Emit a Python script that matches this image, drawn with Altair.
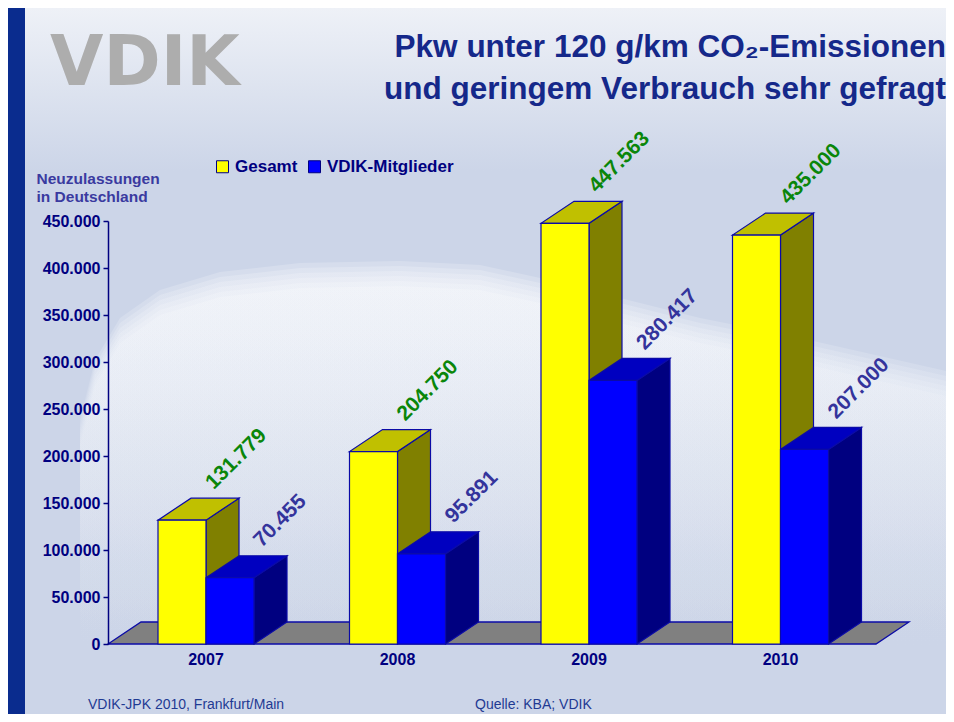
import altair as alt
import pandas as pd

# ---------------- data ----------------
years = ["2007", "2008", "2009", "2010"]
gesamt = [131779, 204750, 447563, 435000]
mitglieder = [70455, 95891, 280417, 207000]
series_names = ["Gesamt", "VDIK-Mitglieder"]
y_ticks = [0, 50000, 100000, 150000, 200000, 250000, 300000, 350000, 400000, 450000]
title_lines = ["Pkw unter 120 g/km CO\u2082-Emissionen", "und geringem Verbrauch sehr gefragt"]
y_title = ["Neuzulassungen", "in Deutschland"]
footer_left = "VDIK-JPK 2010, Frankfurt/Main"
footer_right = "Quelle: KBA; VDIK"
logo_text = "VDIK"

# ---------------- layout / style ----------------
W, H = 810, 423
Y_MAX = 450000
GROUP0, GROUP_STEP, BAR_W = 98, 191.5, 48
DEPTH_X = 33
DEPTH_Y = 22 * Y_MAX / H
FLOOR_W = 768

FACE = {
    "Gesamt": ("#ffff00", "#c0c000", "#808000"),
    "VDIK-Mitglieder": ("#0000ff", "#0000c0", "#000080"),
}
LABEL_COLOR = {"Gesamt": "#0a860a", "VDIK-Mitglieder": "#34349c"}
EDGE = "#0b0ba6"
NAVY = "#000080"
TITLE_COLOR = "#15288a"
BG = "#ccd5e8"
FONT = "Liberation Sans"

# ---------------- geometry tables built from the data ----------------
front, side, top, labels, ylabels = [], [], [], [], []
for i, yr in enumerate(years):
    c = GROUP0 + GROUP_STEP * i
    ylabels.append(dict(x=c, base=0, text=yr))
    for s, vals, x0 in (("Gesamt", gesamt, c - BAR_W), ("VDIK-Mitglieder", mitglieder, c)):
        v = vals[i]
        x1 = x0 + BAR_W
        bid = f"{yr}-{s}"
        front.append(dict(series=s, bid=bid, x0=x0, x1=x1, base=0, v=v))
        side += [
            dict(series=s, bid=bid, x=x1, lo=0, hi=v),
            dict(series=s, bid=bid, x=x1 + DEPTH_X, lo=DEPTH_Y, hi=v + DEPTH_Y),
        ]
        top += [
            dict(series=s, bid=bid, x=x0, lo=v, hi=v),
            dict(series=s, bid=bid, x=x0 + DEPTH_X, lo=v, hi=v + DEPTH_Y),
            dict(series=s, bid=bid, x=x1, lo=v, hi=v + DEPTH_Y),
            dict(series=s, bid=bid, x=x1 + DEPTH_X, lo=v + DEPTH_Y, hi=v + DEPTH_Y),
        ]
        labels.append(dict(series=s, x=x1, y=v + DEPTH_Y,
                           text=f"{v:,}".replace(",", ".")))

floor = pd.DataFrame([
    dict(bid="floor", x=0, lo=0, hi=0),
    dict(bid="floor", x=DEPTH_X, lo=0, hi=DEPTH_Y),
    dict(bid="floor", x=FLOOR_W, lo=0, hi=DEPTH_Y),
    dict(bid="floor", x=FLOOR_W + DEPTH_X, lo=DEPTH_Y, hi=DEPTH_Y),
])
front = pd.DataFrame(front)
side = pd.DataFrame(side)
top = pd.DataFrame(top)
labels = pd.DataFrame(labels)
ylabels = pd.DataFrame(ylabels)
one = pd.DataFrame({"k": [0]})

xscale = alt.Scale(domain=[0, W], nice=False, zero=False)
yscale = alt.Scale(domain=[0, Y_MAX], nice=False, zero=True)

yaxis = alt.Axis(
    values=y_ticks,
    labelExpr="replace(format(datum.value, ','), ',', '.')",
    title=y_title, titleAngle=0, titleAlign="left", titleBaseline="alphabetic",
    titleX=-72, titleY=-38, titleFont=FONT, titleFontSize=15.5, titleFontWeight="bold",
    titleColor="#3a3aa0", titleLineHeight=18,
    labelFont=FONT, labelFontSize=16, labelFontWeight="bold", labelColor=NAVY,
    labelPadding=3, domainColor=NAVY, domainWidth=1.5, tickColor=NAVY,
    tickSize=5, tickWidth=1.5, grid=False, zindex=1,
)

def X(field):
    return alt.X(field, type="quantitative", scale=xscale, axis=None)

def Y(field):
    return alt.Y(field, type="quantitative", scale=yscale, axis=yaxis)

layers = []

# ---------------- background decoration ----------------
top_band = alt.Chart(one).mark_rect(
    fill=alt.LinearGradient(gradient="linear", x1=0, y1=0, x2=0, y2=1, stops=[
        alt.GradientStop(offset=0, color="#eef1f7"),
        alt.GradientStop(offset=1, color=BG)]),
).encode(x=alt.value(-100), x2=alt.value(838), y=alt.value(-213), y2=alt.value(-50))
layers.append(top_band)

cloud_path = ("M-0.88,0 L-0.85,-0.12 L-0.8,-0.204 L-0.72,-0.26 L-0.6,-0.296 "
              "L-0.44,-0.314 L-0.24,-0.318 L-0.08,-0.31 L0.04,-0.284 L0.2,-0.244 "
              "L0.36,-0.204 L0.56,-0.164 L0.86,-0.096 L0.86,0.4 L-0.88,0.4 Z")
for off in [0, 5, 10, 15, 20, 25]:
    cl = alt.Chart(one).mark_point(
        shape=cloud_path, size=1000000, filled=True, strokeWidth=0, opacity=0.2,
        fill=alt.LinearGradient(gradient="linear", x1=0, y1=0, x2=0, y2=1, stops=[
            alt.GradientStop(offset=0, color="#ffffff"),
            alt.GradientStop(offset=0.3, color="#f2f5fa"),
            alt.GradientStop(offset=0.7, color="#dde3ef"),
            alt.GradientStop(offset=1, color=BG)]),
    ).encode(x=alt.value(412), y=alt.value(199 + off))
    layers.append(cl)

stripe = alt.Chart(one).mark_rect(fill="#0a2c8e").encode(
    x=alt.value(-100), x2=alt.value(-83), y=alt.value(-213), y2=alt.value(493))
layers.append(stripe)

# ---------------- floor ----------------
floor_layer = alt.Chart(floor).mark_area(
    orient="vertical", fill="#808080", stroke=EDGE, strokeWidth=1.3
).encode(x=X("x"), y=Y("lo"), y2="hi", detail="bid:N")
layers.append(floor_layer)

# ---------------- 3D bars ----------------
for s in series_names:
    layers.append(
        alt.Chart(side).transform_filter(alt.datum.series == s).mark_area(
            orient="vertical", fill=FACE[s][2], stroke=EDGE, strokeWidth=1.2
        ).encode(x=X("x"), y=Y("lo"), y2="hi", detail="bid:N"))
    layers.append(
        alt.Chart(top).transform_filter(alt.datum.series == s).mark_area(
            orient="vertical", fill=FACE[s][1], stroke=EDGE, strokeWidth=1.2
        ).encode(x=X("x"), y=Y("lo"), y2="hi", detail="bid:N"))

front_layer = alt.Chart(front).mark_rect(stroke=EDGE, strokeWidth=1.2).encode(
    x=X("x0"), x2="x1", y=Y("v"), y2="base",
    color=alt.Color("series:N", scale=alt.Scale(domain=series_names,
                    range=[FACE[s][0] for s in series_names]),
                    legend=alt.Legend(
                        orient="none", legendX=106, legendY=-63, direction="horizontal",
                        title=None, symbolType="square", symbolSize=144,
                        symbolStrokeColor=NAVY, symbolStrokeWidth=1, symbolOpacity=1,
                        labelFont=FONT, labelFontSize=17, labelFontWeight="bold",
                        labelColor=NAVY, labelOffset=4, columnPadding=8)),
)
layers.append(front_layer)

# ---------------- value labels ----------------
for s in series_names:
    layers.append(
        alt.Chart(labels).transform_filter(alt.datum.series == s).mark_text(
            angle=315, align="left", baseline="alphabetic", dx=11, dy=0,
            font=FONT, fontSize=21, fontWeight="bold", color=LABEL_COLOR[s]
        ).encode(x=X("x"), y=Y("y"), text="text:N"))

# year labels
layers.append(
    alt.Chart(ylabels).mark_text(
        align="center", baseline="middle", dy=16, font=FONT, fontSize=16,
        fontWeight="bold", color=NAVY
    ).encode(x=X("x"), y=Y("base"), text="text:N"))

# ---------------- texts ----------------
def txt(text, x, y, **kw):
    return alt.Chart(one).mark_text(font=FONT, **kw).encode(
        x=alt.value(x), y=alt.value(y), text=alt.value(text))

layers.append(alt.Chart(one).mark_text(font="DejaVu Sans", fontSize=69, fontWeight="bold",
                                       align="left", baseline="alphabetic",
                                       color="#adadad").encode(
    x=alt.value(-58), y=alt.value(-136), text=alt.value(logo_text)))

layers.append(txt(title_lines[0], 838, -164, align="right", baseline="alphabetic",
                  fontSize=31.5, fontWeight="bold", color=TITLE_COLOR))
layers.append(txt(title_lines[1], 838, -122, align="right", baseline="alphabetic",
                  fontSize=31.5, fontWeight="bold", color=TITLE_COLOR))
layers.append(txt(footer_left, -20, 488, align="left", baseline="alphabetic",
                  fontSize=14, color="#1f3a93"))
layers.append(txt(footer_right, 367, 488, align="left", baseline="alphabetic",
                  fontSize=14, color="#1f3a93"))

chart = alt.layer(*layers).properties(
    width=W, height=H, background=BG,
    autosize=alt.AutoSizeParams(type="none"),
    padding={"left": 100, "top": 213, "right": 28, "bottom": 70},
).configure_view(strokeWidth=0)

chart.save("out.html", embed_options={"renderer": "svg", "actions": False})
